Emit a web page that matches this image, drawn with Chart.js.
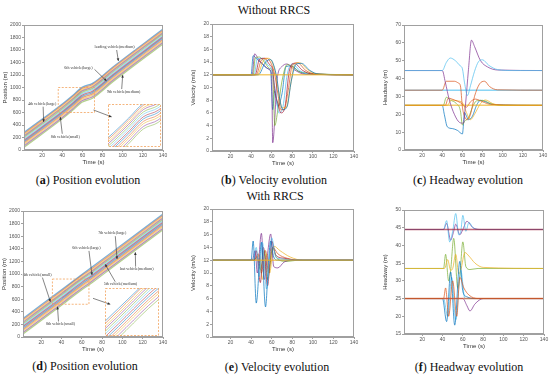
<!DOCTYPE html>
<html><head><meta charset="utf-8">
<script src="https://cdn.jsdelivr.net/npm/chart.js@4.4.0/dist/chart.umd.min.js"></script>
<style>
body{margin:0;width:550px;height:375px;background:#fff;position:relative;overflow:hidden;font-family:"Liberation Serif","Times New Roman",serif}
canvas{position:absolute}
.cap{position:absolute;font-size:12px;color:#111;white-space:nowrap;transform:translate(-50%,-50%)}
</style></head><body>
<div class="cap" style="left:274px;top:10px">Without RRCS</div>
<div class="cap" style="left:275px;top:196px">With RRCS</div>
<div class="cap" style="left:88px;top:180px">(<b>a</b>) Position evolution</div>
<div class="cap" style="left:274px;top:180px">(<b>b</b>) Velocity evolution</div>
<div class="cap" style="left:468px;top:180px">(<b>c</b>) Headway evolution</div>
<div class="cap" style="left:85px;top:366px">(<b>d</b>) Position evolution</div>
<div class="cap" style="left:277px;top:367px">(<b>e</b>) Velocity evolution</div>
<div class="cap" style="left:469px;top:367px">(<b>f</b>) Headway evolution</div>
<script>
/* DATA */
const xTicks=[20,40,60,80,100,120,140]

const posTimesA=[2,40,50,60,70,90,140]
const posA=[
[280,736,868,1006,1066,1326,1936],
[262,718,850,988,1048,1308,1918],
[240,696,828,966,1026,1286,1896],
[222,678,810,948,1008,1268,1878],
[200,656,788,926,986,1246,1856],
[178,634,766,904,964,1224,1834],
[155,611,743,881,941,1201,1811],
[135,591,723,861,921,1181,1791],
[112,568,700,838,898,1158,1768],
[90,546,678,816,876,1136,1746],
[65,521,653,791,851,1111,1721],
[42,498,630,768,828,1088,1698]
]

const posTimesD=[2,40,60,70,90,140]
const posD=[
[295,751,991,1111,1351,1951],
[275,731,977,1087,1331,1931],
[252,708,954,1064,1308,1908],
[232,688,934,1044,1288,1888],
[210,666,912,1022,1266,1866],
[188,644,890,1000,1244,1844],
[165,621,867,977,1221,1821],
[143,599,845,955,1199,1799],
[120,576,822,932,1176,1776],
[98,554,800,910,1154,1754],
[72,528,774,884,1128,1728],
[48,504,750,860,1104,1704]
]

const velB=[
[[2,12],[40,12],[42,15],[45,14.6],[50,13.8],[56,13],[59,12.5],[61,6.5],[63,9.5],[66,7],[70,9],[74,13.3],[79,13.4],[86,12.6],[95,12.1],[140,12]],
[[2,12],[41,12],[43.5,15.3],[47,14.5],[52,13.6],[58,12.8],[60,12],[61,1.3],[63,5],[65,11],[70,13.3],[75,13.7],[82,12.8],[92,12.1],[140,12]],
[[2,12],[42,12],[44,14.6],[48,14.8],[53,14],[58,13],[61,12.5],[63,4],[66,6.5],[70,11],[75,13.6],[80,13.3],[88,12.4],[140,12]],
[[2,12],[43,12],[46,14.5],[51,14.6],[56,13.6],[60,12.8],[62,11],[64,9],[67,6],[71,7],[75,12],[80,13.7],[88,12.6],[97,12.1],[140,12]],
[[2,12],[44,12],[48,14.4],[53,14.6],[58,13.6],[61,12.8],[63,9.5],[66,7.5],[69,6],[73,7],[77,12.5],[82,13.8],[90,12.7],[100,12.1],[140,12]],
[[2,12],[45,12],[50,14.3],[55,14.6],[60,13.6],[63,12],[66,9],[69,6.5],[72,6.5],[76,9.5],[80,13.5],[85,13.9],[93,12.7],[103,12.1],[140,12]],
[[2,12],[46,12],[52,14.2],[57,14.6],[61,13.8],[64,12],[67,9],[70,6.8],[74,6.8],[78,10],[82,13.5],[87,13.9],[95,12.8],[105,12.1],[140,12]],
[[2,12],[47,12],[54,14],[59,14.4],[62,13.5],[65,11.5],[68,8],[71,6.5],[75,7],[79,11],[84,13.7],[89,13.8],[97,12.7],[106,12.1],[140,12]],
[[2,12],[140,12]]
]
const velBColors=[0,3,4,5,6,1,2,0,2]

const headC=[
[[2,25],[40,25],[42,20],[45,13],[50,12],[55,11],[60,9],[61,14],[62,21],[64,19],[66,17],[70,19],[74,25],[78,27.8],[83,27],[90,25.5],[140,25]],
[[2,25],[41,25],[44,29.5],[48,28],[54,26],[58,22],[60,14],[62,16],[66,18],[70,24],[74,27.5],[80,27.8],[88,26],[100,25],[140,25]],
[[2,25],[45,25],[49,28],[55,27.5],[60,26.5],[64,21],[68,17],[72,20],[78,26],[83,28],[90,26],[100,25],[140,25]],
[[2,25],[43,25],[46,29],[52,28],[58,26.5],[61,25],[64,24],[68,27],[73,28.5],[80,27],[88,25.5],[140,25]],
[[2,25],[140,25]],
[[2,33.5],[140,33.5]],
[[2,33.5],[40,33.5],[44,38.5],[52,38.5],[56,37.5],[58,36],[60,24],[62,19],[65,17],[68,20],[72,30],[77,37],[82,38.5],[87,35.5],[95,33.7],[140,33.5]],
[[2,44.5],[40,44.5],[43,38],[47,28],[52,20],[57,15.5],[61,15],[63,25],[66,45],[69,61.5],[72,58],[78,50],[85,46.5],[95,44.8],[140,44.5]],
[[2,44.5],[40,44.5],[44,49],[48,51.5],[53,50],[58,47],[60,45.5],[62,38],[65,30.5],[68,36],[72,44],[76,49.5],[80,50.5],[86,47.5],[95,45],[110,44.5],[140,44.5]]
]
const headCColors=[0,4,2,1,2,5,1,3,5]

const velE=[
[[2,12],[43,12],[47,13],[50,10],[54,13.5],[57,10],[61,14],[66,13],[75,12.3],[90,12],[140,12]],
[[2,12],[44,12],[48,12.8],[51,9],[55,13],[58,10],[62,14.2],[68,13.5],[78,12.5],[90,12],[140,12]],
[[2,12],[42,12],[46,12.5],[49,10.5],[53,13.5],[56,9],[61,14],[65,12.3],[75,11.8],[85,12],[140,12]],
[[2,12],[43,12],[45,13.5],[49,8.5],[52,14],[56,8],[60,15],[64,12.8],[72,12.3],[85,12],[140,12]],
[[2,12],[41,12],[44,13.5],[46,10],[50,16.2],[53,9],[56,13],[59,16.1],[62,11],[66,10.8],[72,11.7],[80,12],[140,12]],
[[2,12],[42,12],[45,14],[48,9.5],[51,14.8],[55,7.5],[60,15.5],[64,12.5],[70,12.2],[80,12],[140,12]],
[[2,12],[40,12],[42,15],[45,5.3],[48,11],[50,14.8],[54,4.7],[57,12],[59,15],[62,12.5],[66,12],[140,12]],
[[2,12],[140,12]]
]
const velEColors=[1,2,4,6,3,5,0,2]

const headF=[
[[2,44.5],[41,44.5],[44,46.2],[48,41.5],[51,44],[53,46],[57,43],[60,44.5],[64,46.8],[70,45],[78,44.5],[140,44.5]],
[[2,44.5],[41,44.5],[44,47],[47,41],[50,44],[53,49],[56,43],[58,44],[60,48.5],[63,44],[66,46.5],[70,45],[76,44.5],[140,44.5]],
[[2,44.5],[140,44.5]],
[[2,33.5],[41,33.5],[43,37.5],[46,30],[48,33],[51,42],[55,28],[57,31],[60,41],[63,34],[67,33.2],[75,33.5],[140,33.5]],
[[2,33.5],[42,33.5],[45,36],[48,33],[50,33.5],[53,37.5],[56,32],[58,33],[62,38],[66,37],[72,35],[80,33.8],[140,33.5]],
[[2,25],[60,25],[64,23],[67,21.5],[72,23.5],[80,25],[140,25]],
[[2,25],[41,25],[45,20],[49,31],[53,19],[58,33],[62,25],[66,25],[140,25]],
[[2,25],[40,25],[44,18.5],[48,32.5],[52,17.5],[57,35.5],[60,27],[64,25.5],[72,25],[140,25]],
[[2,25],[41,25],[43,28],[46,20],[50,30],[54,20],[57,31],[61,28],[66,26],[75,25],[140,25]],
[[2,25],[140,25]]
]
const headFColors=[3,5,6,4,2,3,5,0,1,1]

const notesA=[
{text:'leading vehicle(medium)',tx:92,ty:1650,sx:94,sy:1600,ex:95.7,ey:1424},
{text:'6th vehicle(large)',tx:56,ty:1320,sx:72,sy:1290,ex:84,ey:1104},
{text:'9th vehicle(medium)',tx:101,ty:925,sx:99,sy:975,ex:100,ey:1200},
{text:'4th vehicle(large)',tx:20,ty:735,sx:21,sy:700,ex:21.5,ey:450},
{text:'8th vehicle(small)',tx:43,ty:215,sx:40,sy:260,ex:38,ey:530}
]
const notesD=[
{text:'7th vehicle(large)',tx:90,ty:1650,sx:93,sy:1600,ex:94.7,ey:1238},
{text:'6th vehicle(large)',tx:64.5,ty:1410,sx:67,sy:1370,ex:70,ey:984},
{text:'last vehicle(medium)',tx:114,ty:1074,sx:113,sy:1115,ex:112.7,ey:1344},
{text:'5th vehicle(medium)',tx:98,ty:836,sx:93,sy:875,ex:83,ey:1154},
{text:'4th vehicle(small)',tx:16,ty:984,sx:21,sy:950,ex:29,ey:560},
{text:'8th vehicle(small)',tx:39,ty:201,sx:37,sy:245,ex:36,ey:481}
]
const zoomA={x0:36,x1:72,y0:600,y1:1000,sx:71,sy:640,ex:89,ey:530}
const zoomD={x0:31,x1:67,y0:520,y1:920,sx:71,sy:614,ex:88,ey:519}

/* ESTILO */
Chart.defaults.font.family='"Liberation Sans", Arial, sans-serif'
const MC=['#0072BD','#D95319','#EDB120','#7E2F8E','#77AC30','#4DBEEE','#A2142F']
function rgba(h,a){const n=parseInt(h.slice(1),16);return `rgba(${n>>16},${(n>>8)&255},${n&255},${a})`}
const ORANGE='#f2a25c'

const boxPlugin={id:'box',afterDraw(c){
const a=c.chartArea,g=c.ctx
g.save();g.strokeStyle='#a0a0a0';g.lineWidth=1
g.strokeRect(Math.round(a.left)+0.5,Math.round(a.top)+0.5,Math.round(a.right-a.left)-1,Math.round(a.bottom-a.top)-1)
g.restore()}}

function arrow(g,x1,y1,x2,y2){
g.beginPath();g.moveTo(x1,y1);g.lineTo(x2,y2);g.stroke()
const an=Math.atan2(y2-y1,x2-x1),L=3
g.beginPath();g.moveTo(x2,y2)
g.lineTo(x2-L*Math.cos(an-0.45),y2-L*Math.sin(an-0.45))
g.lineTo(x2-L*Math.cos(an+0.45),y2-L*Math.sin(an+0.45))
g.closePath();g.fill()
}

function notesPlugin(list,zm){return {id:'notes',afterDatasetsDraw(c){
const sx=c.scales.x,sy=c.scales.y,g=c.ctx
g.save()
g.strokeStyle=ORANGE;g.setLineDash([2,1.5]);g.lineWidth=0.8
const X0=sx.getPixelForValue(zm.x0),X1=sx.getPixelForValue(zm.x1)
const Y0=sy.getPixelForValue(zm.y0),Y1=sy.getPixelForValue(zm.y1)
g.strokeRect(X0,Y1,X1-X0,Y0-Y1)
g.setLineDash([])
g.strokeStyle='#333';g.fillStyle='#333';g.lineWidth=0.6
arrow(g,sx.getPixelForValue(zm.sx),sy.getPixelForValue(zm.sy),sx.getPixelForValue(zm.ex),sy.getPixelForValue(zm.ey))
g.font='4px "Liberation Serif", serif';g.textAlign='center';g.textBaseline='middle'
list.forEach(n=>{
arrow(g,sx.getPixelForValue(n.sx),sy.getPixelForValue(n.sy),sx.getPixelForValue(n.ex),sy.getPixelForValue(n.ey))
g.fillStyle='#fff'
const w=g.measureText(n.text).width
g.fillRect(sx.getPixelForValue(n.tx)-w/2-0.5,sy.getPixelForValue(n.ty)-2.5,w+1,5)
g.fillStyle='#333'
g.fillText(n.text,sx.getPixelForValue(n.tx),sy.getPixelForValue(n.ty))
})
g.restore()}}}

// chart.js pinta el primer dataset encima, por eso se invierte
function posSets(rows,times,lw){
return rows.map((r,i)=>({data:r.map((v,k)=>({x:times[k],y:v})),borderColor:rgba(MC[i%7],0.55),borderWidth:lw})).reverse()
}
function pairSets(list,cols){
return list.map((p,i)=>({data:p.map(q=>({x:q[0],y:q[1]})),
borderColor:rgba(MC[cols[i]],p.length==2?0.65:0.7),borderWidth:p.length==2?1.5:1})).reverse()
}

function panel(box,o){
const yW=22,xH=16,pT=4,pR=6
const cv=document.createElement('canvas')
const w=(box.r-box.l)+yW+pR,h=(box.b-box.t)+pT+xH
cv.width=w;cv.height=h
cv.style.left=(box.l-yW)+'px';cv.style.top=(box.t-pT)+'px'
document.body.appendChild(cv)
new Chart(cv,{type:'line',data:{datasets:o.sets},options:{
responsive:false,animation:false,
layout:{autoPadding:false,padding:{top:pT,right:pR,left:0,bottom:0}},
plugins:{legend:{display:false},tooltip:{enabled:false}},
elements:{point:{radius:0},line:{cubicInterpolationMode:'monotone'}},
scales:{
x:{type:'linear',min:2,max:140,
afterBuildTicks:s=>{s.ticks=xTicks.map(v=>({value:v}))},
afterFit:s=>{s.height=xH},
ticks:{font:{size:5},color:'#555',padding:1,maxRotation:0,autoSkip:false},
grid:{drawOnChartArea:false,tickLength:2,color:'#a0a0a0'},border:{color:'#a0a0a0'},
title:{display:true,text:'Time (s)',font:{size:6,weight:'normal'},color:'#333',padding:0}},
y:{min:o.ymin,max:o.ymax,
afterFit:s=>{s.width=yW},
ticks:{stepSize:o.step,font:{size:5},color:'#555',padding:1,callback:v=>String(v)},
grid:{drawOnChartArea:false,tickLength:2,color:'#a0a0a0'},border:{color:'#a0a0a0'},
title:{display:true,text:o.ylab,font:{size:6,weight:'normal'},color:'#333',padding:0}}
}},plugins:[boxPlugin].concat(o.extra||[])})
}

function inset(px,o){
const cv=document.createElement('canvas')
cv.width=px.r-px.l;cv.height=px.b-px.t
cv.style.left=px.l+'px';cv.style.top=px.t+'px'
document.body.appendChild(cv)
new Chart(cv,{type:'line',data:{datasets:o.sets},options:{
responsive:false,animation:false,
layout:{autoPadding:false,padding:0},
plugins:{legend:{display:false},tooltip:{enabled:false}},
elements:{point:{radius:0},line:{cubicInterpolationMode:'monotone'}},
scales:{x:{type:'linear',display:false,min:o.z.x0,max:o.z.x1},y:{display:false,min:o.z.y0,max:o.z.y1}}
},plugins:[{id:'frame',afterDraw(c){const g=c.ctx;g.save();g.strokeStyle=ORANGE;g.setLineDash([2,1.5]);g.lineWidth=0.8;g.strokeRect(0.5,0.5,c.width-1,c.height-1);g.restore()}}]})
}

/* GRAFICAS */
panel({l:24,t:25,r:163,b:150},{sets:posSets(posA,posTimesA,1.2),ymin:0,ymax:2000,step:200,ylab:'Position (m)',extra:[notesPlugin(notesA,zoomA)]})
inset({l:108,t:104,r:161,b:147},{sets:posSets(posA,posTimesA,0.9),z:zoomA})
panel({l:212,t:24,r:354,b:151},{sets:pairSets(velB,velBColors),ymin:0,ymax:20,step:2,ylab:'Velocity (m/s)'})
panel({l:404,t:25,r:543,b:150},{sets:pairSets(headC,headCColors),ymin:0,ymax:70,step:10,ylab:'Headway (m)'})

panel({l:23,t:211,r:163,b:337},{sets:posSets(posD,posTimesD,1.2),ymin:0,ymax:2000,step:200,ylab:'Position (m)',extra:[notesPlugin(notesD,zoomD)]})
inset({l:105,t:288,r:159,b:336},{sets:posSets(posD,posTimesD,0.9),z:zoomD})
panel({l:212,t:209,r:354,b:337},{sets:pairSets(velE,velEColors),ymin:0,ymax:20,step:2,ylab:'Velocity (m/s)'})
panel({l:404,t:210,r:544,b:334},{sets:pairSets(headF,headFColors),ymin:15,ymax:50,step:5,ylab:'Headway (m)'})
</script>
</body></html>
